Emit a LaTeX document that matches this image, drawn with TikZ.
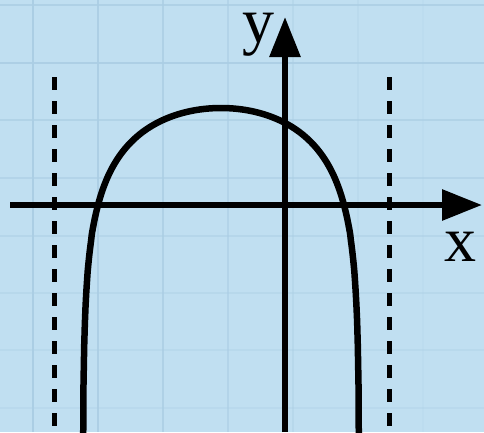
\documentclass[tikz,border=0pt]{standalone}
\usepackage{fontspec}
\setmainfont{Liberation Serif}
\usetikzlibrary{arrows.meta}

\definecolor{paper}{HTML}{C0DFF1}
\definecolor{gridblue}{HTML}{ABCEE4}

\tikzset{
  axis/.style={line width=6pt, -{Triangle[length=40pt, width=30pt]}},
  asym/.style={line width=5pt, dash pattern=on 13pt off 11pt},
  graph/.style={line width=6.5pt},
  lbl/.style={font=\fontsize{64}{64}\selectfont, inner sep=0pt, anchor=base}
}

\begin{document}
\begin{tikzpicture}[x=1pt, y=-1pt]
  \fill[paper] (0,0) rectangle (484,432);
  \useasboundingbox (0,0) rectangle (484,432);

  % faint squared paper
  \foreach \gx/\op in {33/1, 98/0.9, 163/0.8, 228/0.6, 293/0.4, 358/0.25, 423/0.15}
    \draw[gridblue, line width=2pt, opacity=\op] (\gx,0) -- (\gx,432);
  \foreach \gy/\op in {5/0.8, 63/0.9, 120/0.7, 178/0.6, 236/0.5, 293/0.4, 350/0.35, 408/0.3}
    \draw[gridblue, line width=2pt, opacity=\op] (0,\gy) -- (484,\gy);

  % asymptotes
  \coordinate (al) at (54,77);
  \coordinate (alb) at (54,432);
  \coordinate (ar) at (389,77);
  \coordinate (arb) at (389,432);
  \draw[asym] (al) -- (alb);
  \draw[asym] (ar) -- (arb);

  % axes
  \coordinate (xl) at (10,205);
  \coordinate (xr) at (482,205);
  \coordinate (yb) at (285,432);
  \coordinate (yt) at (285,17);
  \draw[axis] (xl) -- (xr);
  \draw[axis] (yb) -- (yt);
  \node[lbl] (ylab) at (258,42) {y};
  \node[lbl] (xlab) at (460,261) {x};

  % curve
  \begin{scope}
    \clip (0,0) rectangle (484,432);
    \draw[graph] plot[domain=-138.2:138.2, samples=400]
      ({221+\x}, {108-62*ln(1-(\x/138.3)^2)});
  \end{scope}
\end{tikzpicture}
\end{document}
